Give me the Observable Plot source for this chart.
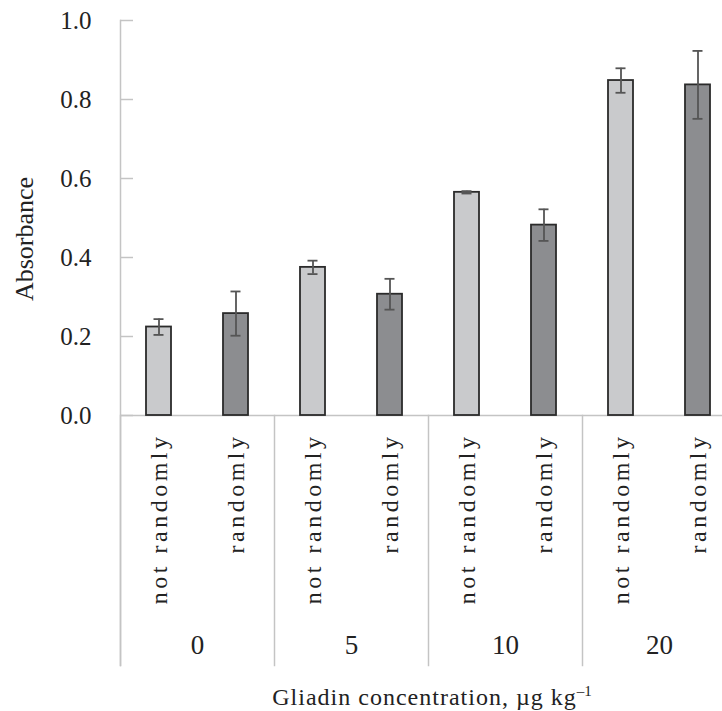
<!DOCTYPE html>
<html>
<head>
<meta charset="utf-8">
<script src="https://cdn.jsdelivr.net/npm/d3@7"></script>
<script src="https://cdn.jsdelivr.net/npm/@observablehq/plot@0.6"></script>
<style>
  html, body { margin: 0; padding: 0; background: #fff; }
  #wrap { width: 722px; height: 711px; overflow: hidden; position: relative; }
  #chart svg { display: block; max-width: none !important; width: 740px !important; height: 682px !important; }
  g[aria-label="x-axis tick label"] text { letter-spacing: 3.5px; }
  #xtitle { margin-left: 124px; width: 616px; text-align: center;
            font: 24px "Liberation Serif", serif; line-height: 30px; color: #222; letter-spacing: 1px; }
  #xtitle sup { font-size: 15px; line-height: 0; vertical-align: 9px; letter-spacing: 0; }
</style>
</head>
<body>
<div id="wrap">
  <div id="chart"></div>
  <div id="xtitle">Gliadin concentration, µg kg<sup>–1</sup></div>
</div>
<script>
// ---- data ----
const groups = ["0", "5", "10", "20"];
const treatments = ["not randomly", "randomly"];
const notRandomly = [0.224, 0.375, 0.565, 0.848];
const notRandomlyErr = [0.020, 0.017, 0.003, 0.031];
const randomly = [0.258, 0.307, 0.482, 0.837];
const randomlyErr = [0.056, 0.039, 0.040, 0.086];
const yTicks = [0, 0.2, 0.4, 0.6, 0.8, 1.0];
const yLabel = "Absorbance";

const rows = [];
groups.forEach((g, i) => {
  rows.push({group: g, treatment: treatments[0], value: notRandomly[i], err: notRandomlyErr[i]});
  rows.push({group: g, treatment: treatments[1], value: randomly[i], err: randomlyErr[i]});
});

const axisGrey = "#c4c4c4";
const font = "'Liberation Serif', 'Times New Roman', serif";

const chart = Plot.plot({
  width: 740,
  height: 682,
  marginLeft: 120,
  marginRight: 4,
  marginTop: 20,
  marginBottom: 267,
  style: {fontFamily: font, color: "#222", background: "#fff", maxWidth: "none"},
  fx: {domain: groups, padding: 0, axis: null},
  x: {domain: treatments, paddingInner: 0.675, paddingOuter: 0.3375, axis: null},
  y: {domain: [0, 1], axis: null},
  color: {domain: treatments, range: ["#c9cacc", "#8c8d90"]},
  marks: [
    // y-axis line (leftmost facet only), continuing down through the category area
    Plot.frame({anchor: "left", facetAnchor: "left", insetBottom: -250, stroke: axisGrey, strokeWidth: 1.5}),
    // group separators below the baseline
    Plot.frame({anchor: "left", insetTop: 395, insetBottom: -250, stroke: axisGrey, strokeWidth: 1.5}),
    Plot.ruleY([0], {stroke: axisGrey, strokeWidth: 1.5}),
    Plot.axisY({ticks: yTicks, tickSize: 0, tickPadding: 29, fontSize: 25,
                tickFormat: d3.format(".1f"), label: null}),
    Plot.axisY({ticks: yTicks, tickSize: 13, dx: 13, tickFormat: () => "",
                stroke: axisGrey, strokeWidth: 1.5, label: null}),
    Plot.barY(rows, {fx: "group", x: "treatment", y: "value", fill: "treatment",
                     stroke: "#2b2b2b", strokeWidth: 1.8}),
    Plot.ruleX(rows, {fx: "group", x: "treatment", y1: d => d.value - d.err, y2: d => d.value + d.err,
                      stroke: "#555", strokeWidth: 1.8}),
    Plot.tickY(rows, {fx: "group", x: "treatment", y: d => d.value + d.err,
                      stroke: "#555", strokeWidth: 1.8, insetLeft: 7.5, insetRight: 7.5}),
    Plot.tickY(rows, {fx: "group", x: "treatment", y: d => d.value - d.err,
                      stroke: "#555", strokeWidth: 1.8, insetLeft: 7.5, insetRight: 7.5}),
    Plot.axisX({tickRotate: -90, tickSize: 0, tickPadding: 18, fontSize: 24, label: null}),
    Plot.axisFx({anchor: "bottom", tickSize: 0, tickPadding: 219, fontSize: 27, label: null}),
    Plot.text([yLabel], {fx: [groups[0]], text: d => d, frameAnchor: "left", textAnchor: "middle",
                         lineAnchor: "middle", rotate: -90, dx: -96, dy: 21, fontSize: 26, fill: "#222"})
  ]
});

document.getElementById("chart").appendChild(chart);
</script>
</body>
</html>
